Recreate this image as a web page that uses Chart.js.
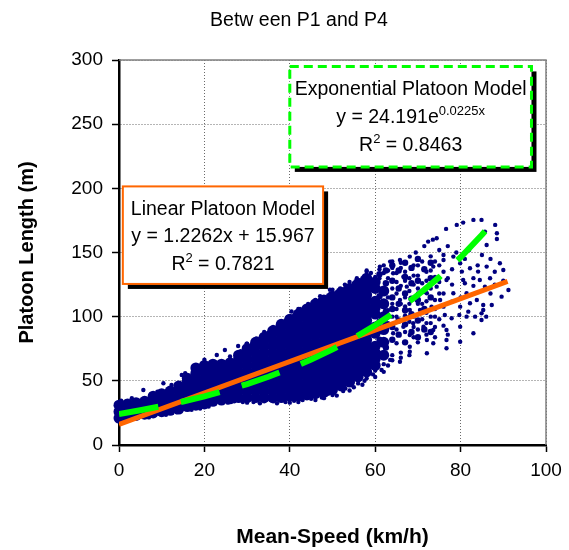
<!DOCTYPE html>
<html><head><meta charset="utf-8">
<script src="https://cdn.jsdelivr.net/npm/chart.js@4.4.1/dist/chart.umd.min.js"></script>
<style>html,body{margin:0;padding:0;background:#fff;overflow:hidden}canvas{display:block}</style>
</head><body>
<canvas id="c" width="569" height="550"></canvas>
<script>
const titleText = 'Betw een P1 and P4';
const xTitle = 'Mean-Speed (km/h)';
const yTitle = 'Platoon Length (m)';
const xTicks = [0, 20, 40, 60, 80, 100];
const yTicks = [0, 50, 100, 150, 200, 250, 300];

// dense core of the cloud: one column per speed value, lengths
const coreX = [0,2,4,6,8,10,12,14,16,18,20,22,24,26,28,30,32,34,36,38,40,42,44,46,48,50,52,54,56,58,60,62];
const coreY = [
  [21,26,31],
  [22,27,32],
  [23,28,33],
  [24,29,34],
  [25,30,35,38],
  [26,31,36,40],
  [27,32,37,42],
  [28,33,38,43,46],
  [30,35,40,45,50,52],
  [31,36,41,46,51,56,60],
  [32,37,42,47,52,57,62],
  [34,39,44,49,54,59,63],
  [35,40,45,50,55,60,63],
  [36,41,46,51,56,61,64],
  [37,42,47,52,57,62,67,70],
  [37,42,47,52,57,62,67,72,75],
  [37,42,47,52,57,62,67,72,77,80],
  [37,42,47,52,57,62,67,72,77,82,84],
  [37,42,47,52,57,62,67,72,77,82,87,89],
  [37,42,47,52,57,62,67,72,77,82,87,92,94],
  [38,43,48,53,58,63,68,73,78,83,88,93,98],
  [38,43,48,53,58,63,68,73,78,83,88,93,98,102],
  [39,44,49,54,59,64,69,74,79,84,89,94,99,104,106],
  [40,45,50,55,60,65,70,75,80,85,90,95,100,105,110],
  [41,46,51,56,61,66,71,76,81,86,91,96,101,106,111,113],
  [43,48,53,58,63,68,73,78,83,88,93,98,103,108,113,116],
  [46,51,56,61,66,71,76,81,86,91,96,101,106,111,116,119],
  [49,54,59,64,69,74,79,84,89,94,99,104,109,114,119,122],
  [53,58,63,68,73,78,83,88,93,98,103,108,113,118,123,126],
  [57,62,67,72,77,82,87,92,97,102,107,112,117,122,127,130],
  [62,67,72,77,87,92,102,107,112,122,127],
  [70,80,90,100,110,120]
];

// transition zone of the cloud, medium density
const midPoints = [
  [61,70],[61,82],[61,96],[61,116],[61,133],
  [62.5,76],[62.5,94],[62.5,104],[62.5,126],[62.5,136],
  [64,82],[64,92],[64,106],[64,115],[64,128],[64,140],
  [65.5,86],[65.5,97],[65.5,110],[65.5,122],[65.5,136],
  [67,80],[67,94],[67,105],[67,118],[67,131],[67,142],
  [68.5,88],[68.5,102],[68.5,114],[68.5,126],[68.5,138],
  [70,84],[70,97],[70,113],[70,128],[70,145],
  [71.5,90],[71.5,106],[71.5,120],[71.5,137],
  [73,88],[73,115],[73,130],[73,142]
];

// individual observations around the edges and in the sparse upper-right region
const scatterPoints = [
  [0.5,34.5],[1.5,19],[3,36.5],[5.7,42.9],[7,21.5],[9,41.5],[10.4,48.1],[11,23.5],[12.3,46.8],[13.5,25.5],
  [14.7,54.6],[15.5,55.9],[17,27.5],[19,28.5],[21,30],[22.9,70.1],[24.8,74],[27.9,77.2],[25.5,33],[27,34],
  [29,33.5],[31.5,33.5],[34,34],[36.1,34],[39,33.5],[41,34.5],[43,35],[45,36],[47.5,37],[50,39],
  [52.5,42],[55,45],[57.5,50],[59.5,55],[61.5,58.5],[63,62],[65.8,64.9],[63.5,66.3],[60.4,68.8],
  [20,66.5],[26,69],[29.9,79],[32.2,83],[34.6,87],[36.1,92],[37.7,95.5],[40.4,104],[42.4,106],
  [44.3,110],[47.1,116],[49.4,121],[51.8,122],[52.9,125],[53.7,123],[55.7,130],[58,135],
  [61.1,139],[63.5,142.9],[65.8,144.2],[68.1,146.8],[69.5,150],[71.5,155],[73.5,160],[72.4,158.5],[74.4,161.1],
  [76.6,168.4],[79.1,171.5],[80.6,173.3],[83,175.4],[84.9,175.4],[85.7,166.3],[88.1,171.5],[88.5,165],
  [88.5,160.5],[86.1,155.9],[89.2,141.6],[90,136.4],[91.2,120.8],[89.6,115.6],[87.3,109.1],[85.3,105.2],
  [84.9,97.4],[83,87.1],[79.9,80.5],[76.7,75.4],[73.6,79.3],[72.1,71.5],[68.1,72.7],[68.1,85.7],
  [73.6,139],[76,144.2],[78.3,146.8],[79.9,141.6],[76.7,128.6],[74.4,123.4],[72.1,118.2],[69.7,113],
  [78.3,118.2],[81.4,118.2],[86.1,139],[86.9,129.9],[85.7,123.4],[80.6,128.6],[75.2,113],[73.2,107.8],
  [70.5,105.2],[68.9,94.9],[71.3,92.2],[73.6,89.6],[76.7,89.6],[79.9,92.2],[81.4,100],[68.1,76.6],
  [72.1,81.8],[76.7,81.8],[65,79.3],[62.7,126],[64.2,133.8],[66.6,131.2],[67.4,123.4],[65.8,113],
  [68.1,105.2],[65,100],[66.6,92.2],[64.2,87.1],
  [80.3,135.1],[82.2,137.7],[84.1,135.1],[84.5,128.6],[83,124],[81,126],
  [76,107.8],[77.9,111.7],[79.9,107.8],[79.7,101.3],[77.9,98.8],[76.3,101.3],
  [82.2,110.4],[83.8,113],[85.3,109.1],[84.9,102.6],[83.4,100],[81.8,103.9],
  [63,95],[63,105],[63,115],[64,100],[64,110],[64,122],[65,90],[65,106],[65,118],[65,127],
  [66,97],[66,110],[66,138],[67,88],[67,101],[67,115],[67,135],[68,96],[68,110],[68,120],
  [68,130],[69,84],[69,100],[69,125],[69,140],[70,90],[70,118],[70,132],[71,98],[71,110],
  [71,126],[71,143],[72,86],[72,103],[72,135],[73,95],[73,122],[73,147],[74,100],[74,113],
  [74,131],[75,140],[75,152],[76,118],[76,135],[77,155],[78,125],[78,137],[79,150],[80,115],
  [81,145],[82,152],[83,130],[84,140],[85,148],[87,145],[88,135],[87,118],[86,100],[88,125],[90,128],
  [62,140],[63,136],[64,143],[65,134],[66,124],[66,142],[67,128],[67,108],[68,100],[69,92],
  [69,132],[70,110],[70,122],[70,140],[71,104],[72,95],[72,112],[72,128],[73,100],[73,136],
  [74,92],[74,106],[74,143],[75,98],[75,127],[75,118],[76,93],[76,148],[77,130],[77,86],
  [28.5,73],[31,78],[33,83],[35,87.5],[37,92],[39,97],[41,101],[43,105],[45,109],[47,113],
  [49,116.5],[51,119],[53,122.5],[55,126],[57,130],[59,134],[61,137],[30,79],[34,88],[38,96],
  [42,106],[46,113],[50,121],[54,127],[58,136],
  [30,33],[33,32.5],[37,32.5],[40,33],[42,33.5],[46,35],[48,36.5],[51,38.5],[54,42.5],[57,47],
  [60,53],[62,57],[64,66],[66,68],[68,70],
  [45,104],[48,109],[50,112],[54,118],[57,125],[59,129],[46,106],[43,100],[39,95],[41,97],
  [56,122],[60,131],[62,134],[61,130],[63,130],[64,138],
  [38,36],[44,37.5],[49,40],[53,44],[56,48],[58,52],[60,58],[62,63],[64,70],[66,72],[70,80],[74,84]
];

// fitted models (end points / points on the drawn curves)
const linearX = [0, 91];
const linearY = [15.97, 127.55];
const expX = [0,5,10,15,20,25,30,35,40,45,50,55,60,65,70,75,80,85,89];
const expY = [24.2,27.1,30.3,33.9,37.9,42.5,47.5,53.2,59.5,66.6,74.5,83.4,93.3,104.4,116.9,130.8,146.3,163.8,179.2];

const linearLabel = ['Linear Platoon Model', 'y = 1.2262x + 15.967', '0.7821'];
const expLabel = ['Exponential Platoon Model', 'y = 24.191e', '0.0225x', '0.8463'];

const FONT = "'Liberation Sans', Arial, sans-serif";
const NAVY = '#000080';
const ORANGE = '#FF6600';
const GREEN = '#00FF00';

const corePts = coreX.flatMap((x, i) => coreY[i].map(y => ({x, y})));
const midPts = midPoints.map(p => ({x: p[0], y: p[1]}));
const scatPts = scatterPoints.map(p => ({x: p[0], y: p[1]}));
const linPts = linearX.map((x, i) => ({x, y: linearY[i]}));
const expPts = expX.map((x, i) => ({x, y: expY[i]}));

function richLine(ctx, parts, cx, cy) {
  let total = 0;
  parts.forEach(p => { ctx.font = p.sup ? `13px ${FONT}` : `19.5px ${FONT}`; p.w = ctx.measureText(p.t).width; total += p.w; });
  let x = cx - total / 2;
  parts.forEach(p => {
    ctx.font = p.sup ? `13px ${FONT}` : `19.5px ${FONT}`;
    ctx.fillText(p.t, x, p.sup ? cy - 8 : cy);
    x += p.w;
  });
}

const framePlugin = {
  id: 'frame',
  beforeDatasetsDraw(chart) {
    const {ctx, chartArea: a} = chart;
    ctx.save();
    ctx.strokeStyle = '#808080';
    ctx.lineWidth = 1.5;
    ctx.beginPath();
    ctx.moveTo(a.left, a.top);
    ctx.lineTo(a.right, a.top);
    ctx.lineTo(a.right, a.bottom);
    ctx.stroke();
    ctx.restore();
  }
};

const boxPlugin = {
  id: 'boxes',
  afterDatasetsDraw(chart) {
    const {ctx, scales: {x: xs, y: ys}} = chart;
    ctx.save();
    // exponential box
    let l = xs.getPixelForValue(40.0), r = xs.getPixelForValue(96.6);
    let t = ys.getPixelForValue(295), b = ys.getPixelForValue(216.7);
    ctx.fillStyle = '#000';
    ctx.fillRect(l + 5, t + 5, r - l, b - t);
    ctx.fillStyle = '#fff';
    ctx.fillRect(l, t, r - l, b - t);
    ctx.strokeStyle = GREEN;
    ctx.lineWidth = 3;
    ctx.setLineDash([9, 5]);
    ctx.strokeRect(l, t, r - l, b - t);
    ctx.setLineDash([]);
    ctx.fillStyle = '#000';
    ctx.textBaseline = 'alphabetic';
    let cx = (l + r) / 2;
    richLine(ctx, [{t: expLabel[0]}], cx, t + 29);
    richLine(ctx, [{t: expLabel[1]}, {t: expLabel[2], sup: true}], cx, t + 57);
    richLine(ctx, [{t: 'R'}, {t: '2', sup: true}, {t: ' = ' + expLabel[3]}], cx, t + 85);

    // linear box
    l = xs.getPixelForValue(0.9); r = xs.getPixelForValue(47.8);
    t = ys.getPixelForValue(201.5); b = ys.getPixelForValue(125.5);
    ctx.fillStyle = '#000';
    ctx.fillRect(l + 5, t + 5, r - l, b - t);
    ctx.fillStyle = '#fff';
    ctx.fillRect(l, t, r - l, b - t);
    ctx.strokeStyle = ORANGE;
    ctx.lineWidth = 2;
    ctx.strokeRect(l, t, r - l, b - t);
    ctx.fillStyle = '#000';
    cx = (l + r) / 2;
    richLine(ctx, [{t: linearLabel[0]}], cx, t + 29);
    richLine(ctx, [{t: linearLabel[1]}], cx, t + 56);
    richLine(ctx, [{t: 'R'}, {t: '2', sup: true}, {t: ' = ' + linearLabel[2]}], cx, t + 84);
    ctx.restore();
  }
};

new Chart(document.getElementById('c'), {
  type: 'scatter',
  data: {
    datasets: [
      {label: 'Exponential Platoon Model', type: 'line', data: expPts, borderColor: GREEN, borderWidth: 6,
       borderDash: [40, 23], pointRadius: 0, fill: false, tension: 0, order: 0},
      {label: 'Linear Platoon Model', type: 'line', data: linPts, borderColor: ORANGE, borderWidth: 5,
       pointRadius: 0, fill: false, order: 1},
      {label: 'Observations', data: scatPts, pointRadius: 2.2, pointBackgroundColor: NAVY,
       pointBorderWidth: 0, borderColor: NAVY, clip: false, order: 2},
      {label: 'Observations (transition)', data: midPts, pointRadius: 3.2, pointBackgroundColor: NAVY,
       pointBorderWidth: 0, borderColor: NAVY, clip: false, order: 3},
      {label: 'Observations (dense)', data: corePts, pointRadius: 5.5, pointBackgroundColor: NAVY,
       pointBorderWidth: 0, borderColor: NAVY, clip: false, order: 4}
    ]
  },
  options: {
    responsive: false,
    animation: false,
    events: [],
    layout: {padding: {left: 52, right: 23, top: 0, bottom: 0}},
    plugins: {
      legend: {display: false},
      tooltip: {enabled: false},
      title: {display: true, text: titleText, color: '#000',
              font: {family: FONT, size: 19.5, weight: 'normal'}, padding: {top: 9, bottom: 27.6}}
    },
    scales: {
      x: {
        type: 'linear', min: 0, max: 100,
        afterBuildTicks: s => { s.ticks = xTicks.map(v => ({value: v})); },
        afterFit: s => { s.height = 105; },
        ticks: {color: '#000', font: {family: FONT, size: 19}, padding: 7, maxRotation: 0},
        grid: {color: '#6a6a6a', lineWidth: 1, tickLength: 7, tickColor: '#000', tickWidth: 1.5},
        border: {display: true, color: '#000', width: 2.5, dash: [1, 2]},
        title: {display: true, text: xTitle, color: '#000', font: {family: FONT, size: 21, weight: 'bold'},
                padding: {top: 0, bottom: 0.4}}
      },
      y: {
        type: 'linear', min: 0, max: 300,
        afterBuildTicks: s => { s.ticks = yTicks.map(v => ({value: v})); },
        afterFit: s => { s.width = 67; },
        ticks: {color: '#000', font: {family: FONT, size: 19}, padding: 9},
        grid: {color: '#6a6a6a', lineWidth: 1, tickLength: 7, tickColor: '#000', tickWidth: 1.5},
        border: {display: true, color: '#000', width: 2.5, dash: [1, 2]},
        title: {display: true, text: yTitle, color: '#000', font: {family: FONT, size: 20, weight: 'bold'},
                padding: {top: -37, bottom: 0}}
      }
    }
  },
  plugins: [framePlugin, boxPlugin]
});
</script>
</body></html>
